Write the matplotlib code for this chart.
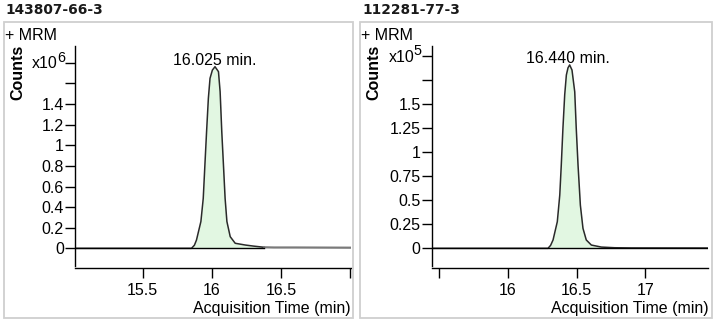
import matplotlib
matplotlib.use("Agg")
import matplotlib.pyplot as plt
from matplotlib.patches import Rectangle
import numpy as np

# ---------------- data ----------------
titles = ["143807-66-3", "112281-77-3"]
peak_labels = ["16.025 min.", "16.440 min."]
peak_times = [16.025, 16.440]
exponents = ["6", "5"]

# Left chromatogram (counts x1e6)
t1 = [15.01, 15.80, 15.854, 15.875, 15.89, 15.922, 15.939, 15.951, 15.963, 15.976,
      15.988, 16.005, 16.024, 16.049, 16.061, 16.073, 16.085, 16.097, 16.11,
      16.134, 16.17, 16.243, 16.30, 16.34, 16.38, 16.45, 16.6, 16.8, 17.01]
c1 = [0.0, 0.0, 0.0, 0.03, 0.08, 0.26, 0.485, 0.81, 1.13, 1.456,
      1.65, 1.73, 1.763, 1.715, 1.52, 1.13, 0.81, 0.485, 0.26,
      0.113, 0.049, 0.032, 0.022, 0.016, 0.010, 0.008, 0.008, 0.007, 0.006]

# Right chromatogram (counts x1e5)
t2 = [15.44, 16.26, 16.291, 16.31, 16.328, 16.359, 16.377, 16.388, 16.40, 16.413,
      16.425, 16.437, 16.449, 16.466, 16.486, 16.497, 16.51, 16.527, 16.546,
      16.57, 16.607, 16.68, 16.777, 16.9, 17.46]
c2 = [0.0, 0.0, 0.0, 0.03, 0.087, 0.277, 0.555, 0.868, 1.25, 1.60,
      1.805, 1.88, 1.91, 1.857, 1.63, 1.25, 0.868, 0.45, 0.208,
      0.087, 0.034, 0.013, 0.006, 0.004, 0.003]

yticks1 = [0, 0.2, 0.4, 0.6, 0.8, 1, 1.2, 1.4, 1.6, 1.8]
yticklabels1 = ["0", "0.2", "0.4", "0.6", "0.8", "1", "1.2", "1.4", "", ""]
xticks1 = [15.5, 16, 16.5, 17]
xticklabels1 = ["15.5", "16", "16.5", ""]

yticks2 = [0, 0.25, 0.5, 0.75, 1, 1.25, 1.5, 1.75, 2.0]
yticklabels2 = ["0", "0.25", "0.5", "0.75", "1", "1.25", "1.5", "", ""]
xticks2 = [15.5, 16, 16.5, 17]
xticklabels2 = ["", "16", "16.5", "17"]

# ---------------- layout ----------------
W, H = 714, 324
fig = plt.figure(figsize=(W / 100, H / 100), dpi=100)
fig.patch.set_facecolor("white")

def fx(px):
    return px / W

def fy(py):
    return 1 - py / H

FONT = "Liberation Sans"
TFONT = "DejaVu Sans"
FILL = "#e2f7e2"
FS = 11.5

panels = [
    dict(box=(4, 22, 353, 318), ax=(75, 46, 351, 268), xlim=(15.012, 17.007),
         ylim=(-0.191, 1.964), ybot=-0.17, t=t1, c=c1, yt=yticks1, ytl=yticklabels1,
         xt=xticks1, xtl=xticklabels1, split=16.38, title_x=5),
    dict(box=(360, 22, 712, 318), ax=(431.7, 46, 708.3, 268), xlim=(15.444, 17.459),
         ylim=(-0.205, 2.107), ybot=-0.18, t=t2, c=c2, yt=yticks2, ytl=yticklabels2,
         xt=xticks2, xtl=xticklabels2, split=None, title_x=362),
]

for i, p in enumerate(panels):
    bx0, by0, bx1, by1 = p["box"]
    fig.patches.append(Rectangle((fx(bx0), fy(by1)), fx(bx1) - fx(bx0), fy(by0) - fy(by1),
                                 transform=fig.transFigure, fill=False,
                                 edgecolor="#cfcfcf", linewidth=1.3))
    fig.text(fx(p["title_x"]), fy(10), titles[i], family=TFONT, fontsize=9.9,
             fontweight="bold", color="#1a1a1a", ha="left", va="center")
    fig.text(fx(bx0 + 1), fy(36), "+ MRM", family=FONT, fontsize=FS, color="black",
             ha="left", va="center")
    fig.text(fx(bx0 + 14), fy(72), "Counts", family=FONT, fontsize=FS, fontweight="bold",
             rotation=90, ha="center", va="center")

    ax0, ay0, ax1, ay1 = p["ax"]
    ax = fig.add_axes([fx(ax0), fy(ay1), fx(ax1) - fx(ax0), fy(ay0) - fy(ay1)])
    ax.set_facecolor("none")
    ax.set_xlim(*p["xlim"])
    ax.set_ylim(*p["ylim"])
    t = np.array(p["t"])
    c = np.array(p["c"])
    if p["split"] is not None:
        m = t <= p["split"]
        ax.fill_between(t[m], 0, c[m], color=FILL, linewidth=0)
        ax.plot(t[m], c[m], color="#2a2a2a", lw=1.1)
        k = np.argmax(~m)
        ax.plot(t[k - 1:], c[k - 1:], color="#7a7a7a", lw=1.6)
        ax.plot([p["xlim"][0], p["split"]], [0, 0], color="black", lw=1.0)
    else:
        ax.fill_between(t, 0, c, color=FILL, linewidth=0)
        ax.plot(t, c, color="#2a2a2a", lw=1.1)
        ax.plot(p["xlim"], [0, 0], color="black", lw=1.0)

    for s in ["top", "right"]:
        ax.spines[s].set_visible(False)
    ax.spines["left"].set_bounds(p["ybot"], p["ylim"][1])
    ax.spines["left"].set_linewidth(1.0)
    ax.spines["bottom"].set_linewidth(1.0)
    ax.set_yticks(p["yt"])
    ax.set_yticklabels(p["ytl"])
    ax.set_xticks(p["xt"])
    ax.set_xticklabels(p["xtl"])
    ax.tick_params(axis="both", direction="out", length=7, width=1.0, labelsize=FS,
                   colors="black")
    ax.tick_params(axis="y", pad=1)
    ax.tick_params(axis="x", pad=4)
    for lab in ax.get_xticklabels() + ax.get_yticklabels():
        lab.set_family(FONT)

    # exponent label at the top tick: "x10" with a raised exponent
    ytop_px = ay1 - (p["yt"][-1] - p["ylim"][0]) / (p["ylim"][1] - p["ylim"][0]) * (ay1 - ay0)
    fig.text(fx(ax0 - 17), fy(ytop_px + 1), "x10", family=FONT, fontsize=FS,
             ha="right", va="center")
    fig.text(fx(ax0 - 17.8), fy(ytop_px - 5), exponents[i], family=FONT, fontsize=FS * 0.9,
             ha="left", va="center")
    # peak label
    ax.annotate(peak_labels[i], xy=(peak_times[i], max(p["c"])), xytext=(0, 1.5),
                textcoords="offset points", ha="center", va="baseline",
                family=FONT, fontsize=FS)

    fig.text(fx(ax1), fy(308), "Acquisition Time (min)", family=FONT, fontsize=FS,
             ha="right", va="center")

fig.savefig("out.png", dpi=100)
